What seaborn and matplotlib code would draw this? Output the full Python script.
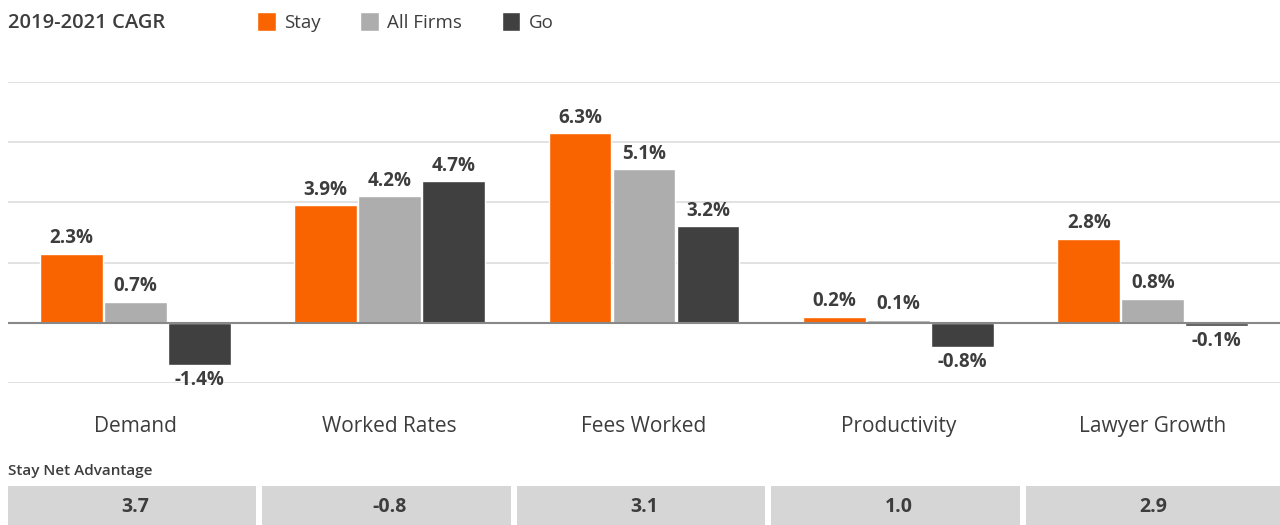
import numpy as np
import pandas as pd
import seaborn as sns
import matplotlib.pyplot as plt
from matplotlib.patches import Rectangle, Patch

sns.set_theme(style='white')
plt.rcParams['font.family'] = ['Open Sans', 'DejaVu Sans']

categories = ['Demand', 'Worked Rates', 'Fees Worked', 'Productivity', 'Lawyer Growth']
series = ['Stay', 'All Firms', 'Go']
stay = [2.3, 3.9, 6.3, 0.2, 2.8]
all_firms = [0.7, 4.2, 5.1, 0.1, 0.8]
go = [-1.4, 4.7, 3.2, -0.8, -0.1]
net_advantage = ['3.7', '-0.8', '3.1', '1.0', '2.9']

colors = ['#f96400', '#adadad', '#404040']
text_color = '#3d3d3d'

df = pd.DataFrame({
    'category': categories * 3,
    'series': [s for s in series for _ in categories],
    'value': stay + all_firms + go,
})

fig = plt.figure(figsize=(12.8, 5.25), dpi=100)
ax = fig.add_axes([8 / 1280, 1 - 383 / 525, 1 - 8 / 1280, 301 / 525])

sns.barplot(data=df, x='category', y='value', hue='series', palette=colors,
            width=0.755, gap=0.02, saturation=1, ax=ax, legend=False)

ax.set_ylim(-2, 8)
ax.set_yticks([-2, 0, 2, 4, 6, 8])
ax.yaxis.grid(True, color='#dddddd', linewidth=1.2)
ax.set_axisbelow(True)
ax.axhline(0, color='#888888', linewidth=1.5, zorder=1)
for s in ax.spines.values():
    s.set_visible(False)
ax.set_yticklabels([])
ax.tick_params(axis='y', length=0)
ax.tick_params(axis='x', length=0, labelsize=15, labelcolor=text_color, pad=24)
ax.set_xlabel('')
ax.set_ylabel('')

for cont in ax.containers:
    labels = [f'{v:.1f}%' for v in cont.datavalues]
    ax.bar_label(cont, labels=labels, padding=4, fontsize=13.5, fontweight='bold',
                 color=text_color)

# title and legend
fig.text(8 / 1280, 1 - 23 / 525, '2019-2021 CAGR', fontsize=14.5, fontweight='semibold',
         color=text_color, va='center')
handles = [Patch(facecolor=c, label=s) for c, s in zip(colors, series)]
fig.legend(handles=handles, loc='center left', bbox_to_anchor=(240 / 1280, 1 - 22 / 525),
           ncol=3, frameon=False, fontsize=13.5, handlelength=1.0, handleheight=1.15,
           handletextpad=0.45, columnspacing=2.1, labelcolor=text_color)

# net advantage table
fig.text(8 / 1280, 1 - 471 / 525, 'Stay Net Advantage', fontsize=11, fontweight='semibold',
         color=text_color, va='center')
tax = fig.add_axes([8 / 1280, 0, 1 - 8 / 1280, 39 / 525])
tax.set_xlim(0, len(net_advantage))
tax.set_ylim(0, 1)
tax.axis('off')
cell_gap = 6 / 254.4
for i, val in enumerate(net_advantage):
    w = 1 if i == len(net_advantage) - 1 else 1 - cell_gap
    tax.add_patch(Rectangle((i, 0), w, 1, facecolor='#d6d6d6', edgecolor='none'))
    tax.text(i + 0.5, 0.45, val, ha='center', va='center', fontsize=14,
             fontweight='bold', color=text_color)

fig.savefig('out.png', dpi=100)
